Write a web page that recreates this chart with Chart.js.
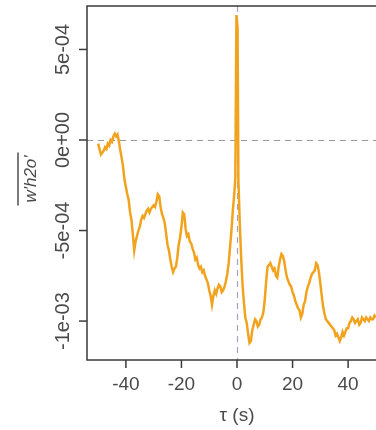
<!DOCTYPE html>
<html>
<head>
<meta charset="utf-8">
<script src="https://cdn.jsdelivr.net/npm/chart.js@4"></script>
<style>
  html, body { margin: 0; padding: 0; background: #fff; overflow: hidden; }
  #wrap { width: 400px; height: 430px; }
</style>
</head>
<body>
<div id="wrap"><canvas id="c" width="400" height="430"></canvas></div>
<script>
// lag tau (s)
const tau = [
  -50,-49.5,-49,-48.5,-48,-47.5,-47,-46.5,-46,-45.5,
  -45,-44.5,-44,-43.5,-43,-42.5,-42,-41.5,-41,-40.5,
  -40,-39.5,-39,-38.5,-38,-37.5,-37,-36.5,-36,-35.5,
  -35,-34.5,-34,-33.5,-33,-32.5,-32,-31.5,-31,-30.5,
  -30,-29.5,-29,-28.5,-28,-27.5,-27,-26.5,-26,-25.5,
  -25,-24.5,-24,-23.5,-23,-22.5,-22,-21.5,-21,-20.5,
  -20,-19.5,-19,-18.5,-18,-17.5,-17,-16.5,-16,-15.5,
  -15,-14.5,-14,-13.5,-13,-12.5,-12,-11.5,-11,-10.5,
  -10,-9.5,-9,-8.5,-8,-7.5,-7,-6.5,-6,-5.5,
  -5,-4.5,-4,-3.5,-3,-2.5,-2,-1.5,-1,
  -0.6,-0.2,0.2,0.5,
  1,1.5,2,2.5,3,3.5,4,4.5,5,5.5,
  6,6.5,7,7.5,8,8.5,9,9.5,10,10.5,
  11,11.5,12,12.5,13,13.5,14,14.5,15,15.5,
  16,16.5,17,17.5,18,18.5,19,19.5,20,20.5,
  21,21.5,22,22.5,23,23.5,24,24.5,25,25.5,
  26,26.5,27,27.5,28,28.5,29,29.5,30,30.5,
  31,31.5,32,32.5,33,33.5,34,34.5,35,35.5,
  36,36.5,37,37.5,38,38.5,39,39.5,40,40.5,
  41,41.5,42,42.5,43,43.5,44,44.5,45,45.5,
  46,46.5,47,47.5,48,48.5,49,49.5,50
];
// covariance w'h2o' in units of 1e-4
const covE4 = [
  -0.2,-0.5,-0.8,-0.7,-0.6,-0.4,-0.5,-0.2,-0.3,0.0,
  -0.1,0.2,0.35,0.2,0.3,-0.1,-0.6,-1.0,-1.5,-2.2,
  -2.6,-3.0,-3.3,-4.0,-4.4,-5.2,-6.1,-5.6,-5.3,-5.0,
  -4.8,-4.4,-4.2,-4.3,-4.1,-3.9,-3.8,-4.0,-3.8,-3.7,
  -3.6,-3.7,-3.4,-3.0,-3.1,-3.7,-4.1,-4.3,-4.6,-5.2,
  -5.8,-6.1,-6.6,-7.0,-7.3,-7.1,-7.0,-6.5,-5.8,-5.4,
  -4.8,-4.0,-4.1,-4.9,-5.3,-5.2,-5.6,-5.7,-6.0,-6.2,
  -6.6,-6.5,-6.9,-7.1,-7.0,-7.3,-7.2,-7.5,-7.7,-7.9,
  -8.3,-8.6,-9.1,-8.6,-8.3,-8.5,-8.2,-8.0,-8.1,-8.4,
  -8.3,-8.1,-7.8,-7.4,-6.8,-5.9,-5.0,-3.9,-3.0,
  -2.1,6.9,6.2,-2.2,
  -4.6,-6.5,-8.0,-9.0,-9.8,-10.1,-10.7,-11.2,-11.1,-10.5,
  -10.2,-9.9,-10.0,-10.3,-10.2,-9.9,-9.8,-9.5,-8.8,-7.8,
  -7.0,-6.9,-6.8,-7.0,-7.2,-7.1,-7.5,-7.6,-7.0,-6.6,
  -6.3,-6.4,-6.7,-7.2,-7.6,-7.8,-8.0,-8.1,-8.4,-8.6,
  -8.9,-9.1,-9.3,-9.4,-9.8,-9.6,-9.1,-8.9,-8.4,-8.1,
  -7.9,-7.6,-7.4,-7.3,-7.2,-6.8,-6.9,-7.3,-7.9,-8.6,
  -9.2,-9.6,-9.9,-10.0,-10.1,-10.2,-10.3,-10.4,-10.5,-10.8,
  -10.7,-10.9,-11.1,-10.9,-10.6,-10.8,-10.6,-10.4,-10.4,-10.1,
  -10.0,-9.8,-9.9,-10.1,-10.0,-9.9,-10.2,-10.1,-9.8,-9.9,
  -10.0,-9.8,-9.9,-10.0,-9.8,-9.9,-9.9,-9.7,-9.8
];
const xTicks = [-40, -20, 0, 20, 40];
const yTicks = [5, 0, -5, -10];
const yTickLabels = ["5e-04", "0e+00", "-5e-04", "-1e-03"];
const xTitle = "\u03C4 (s)";
const yTitle = "w'h2o'";

const points = tau.map((t, i) => ({ x: t, y: covE4[i] }));

const decor = {
  id: 'decor',
  beforeDatasetsDraw(chart) {
    const { ctx, chartArea: a, scales: { x, y } } = chart;
    ctx.save();
    ctx.lineWidth = 1.2;
    ctx.setLineDash([6, 5]);
    ctx.strokeStyle = '#9a9a9a';
    const y0 = Math.round(y.getPixelForValue(0)) + 0.5;
    ctx.beginPath(); ctx.moveTo(a.left, y0); ctx.lineTo(a.right, y0); ctx.stroke();
    ctx.strokeStyle = '#a4a4c0';
    const x0 = Math.round(x.getPixelForValue(0)) + 0.5;
    ctx.beginPath(); ctx.moveTo(x0, a.top); ctx.lineTo(x0, a.bottom); ctx.stroke();
    ctx.restore();
  },
  afterDraw(chart) {
    const { ctx, chartArea: a, scales: { x, y } } = chart;
    ctx.save();
    ctx.strokeStyle = '#3a3a3a';
    ctx.lineWidth = 1.5;
    ctx.strokeRect(a.left, a.top, a.right - a.left, a.bottom - a.top);
    ctx.fillStyle = '#4a4a4a';
    yTicks.forEach((v, i) => {
      const py = y.getPixelForValue(v);
      ctx.beginPath(); ctx.moveTo(a.left, py); ctx.lineTo(a.left - 8, py); ctx.stroke();
      ctx.save();
      ctx.translate(63, py);
      ctx.rotate(-Math.PI / 2);
      ctx.font = '20px "Liberation Sans", Arial, sans-serif';
      ctx.textAlign = 'center';
      ctx.textBaseline = 'middle';
      ctx.fillText(yTickLabels[i], 0, 0);
      ctx.restore();
    });
    xTicks.forEach(v => {
      const px = x.getPixelForValue(v);
      ctx.beginPath(); ctx.moveTo(px, a.bottom); ctx.lineTo(px, a.bottom + 8); ctx.stroke();
      ctx.font = '19px "Liberation Sans", Arial, sans-serif';
      ctx.textAlign = 'center';
      ctx.textBaseline = 'middle';
      ctx.fillText(String(v), px, 385);
    });
    ctx.font = '19px "Liberation Sans", Arial, sans-serif';
    ctx.textAlign = 'center';
    ctx.textBaseline = 'middle';
    ctx.fillText(xTitle, (a.left + a.right) / 2, 416);
    ctx.save();
    ctx.translate(31, (a.top + a.bottom) / 2 - 4);
    ctx.rotate(-Math.PI / 2);
    ctx.font = 'italic 17px "Liberation Sans", Arial, sans-serif';
    ctx.textAlign = 'center';
    ctx.textBaseline = 'middle';
    ctx.fillText(yTitle, 0, 0);
    const w = ctx.measureText(yTitle).width;
    ctx.strokeStyle = '#333';
    ctx.lineWidth = 1.3;
    ctx.beginPath(); ctx.moveTo(-w / 2 - 3, -13); ctx.lineTo(w / 2 + 3, -13); ctx.stroke();
    ctx.restore();
    ctx.restore();
  }
};

new Chart(document.getElementById('c'), {
  type: 'line',
  data: {
    datasets: [{
      data: points,
      borderColor: '#F2A31E',
      borderWidth: 2.5,
      pointRadius: 0,
      tension: 0,
      fill: false
    }]
  },
  options: {
    responsive: false,
    animation: false,
    layout: { padding: { left: 87, right: 13, top: 6, bottom: 70 } },
    plugins: { legend: { display: false }, tooltip: { enabled: false } },
    scales: {
      x: { type: 'linear', display: false, min: -54, max: 54 },
      y: { type: 'linear', display: false, min: -12.15, max: 7.4 }
    }
  },
  plugins: [decor]
});
</script>
</body>
</html>
